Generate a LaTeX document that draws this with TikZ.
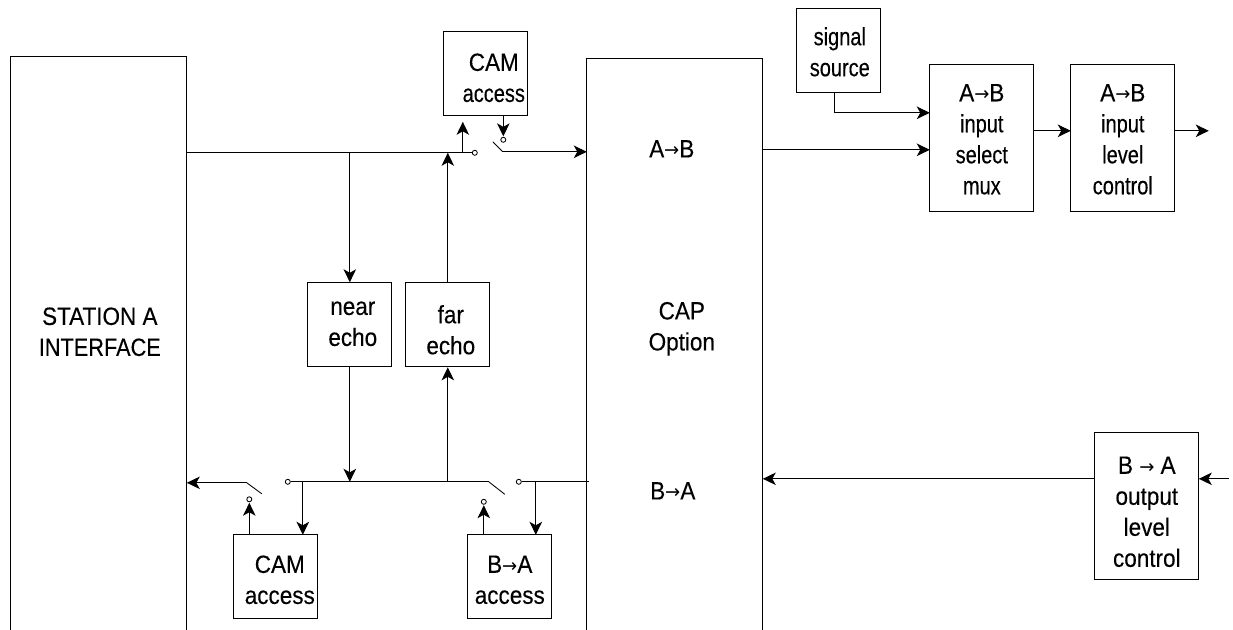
\documentclass[tikz,border=0pt]{standalone}
\usepackage{fontspec}
\setmainfont{Liberation Sans}[FakeStretch=0.9,FakeBold=0.25]
\newfontfamily\narrowfont{Liberation Sans}[FakeStretch=0.8,FakeBold=0.25]
\newfontfamily\ifacefont{Liberation Sans}[FakeStretch=0.87,FakeBold=0.25]
\newfontfamily\arrowfont{DejaVu Sans}[FakeStretch=0.95]
\newcommand{\rarr}{\raisebox{0.5pt}{\arrowfont\fontsize{19}{19}\selectfont →}}
\usetikzlibrary{arrows.meta,calc}
\tikzset{
  wire/.style={line width=1.05pt,black},
  arr/.style={wire,-{Stealth[length=13pt,width=12.5pt,inset=3.5pt]}},
  boxshape/.style={draw=black,line width=1.05pt,inner sep=0pt,rectangle},
  openside/.style={line width=1.05pt,black},
  lbl/.style={align=center,inner sep=0pt,font=\fontsize{25}{31}\selectfont},
  nlbl/.style={align=center,inner sep=0pt,font=\narrowfont\fontsize{25}{31}\selectfont},
  term/.style={circle,draw=black,line width=0.85pt,fill=white,inner sep=0pt,minimum size=5pt},
  blade/.style={line width=0.85pt,black}
}
\begin{document}
\begin{tikzpicture}[x=1pt,y=-1pt]
\useasboundingbox (0.2,0.2) rectangle (1233.2,629.2);
% boxes
\node[boxshape,minimum width=84pt,minimum height=84pt] (camtop) at (486,74) {};
\node[boxshape,minimum width=84pt,minimum height=84pt] (source) at (839,51) {};
\node[boxshape,minimum width=104pt,minimum height=147pt] (mux) at (982,138.5) {};
\node[boxshape,minimum width=104pt,minimum height=147pt] (level) at (1123,138.5) {};
\node[boxshape,minimum width=84pt,minimum height=84pt] (near) at (350,325) {};
\node[boxshape,minimum width=84pt,minimum height=84pt] (far) at (448,325) {};
\node[boxshape,minimum width=84pt,minimum height=84pt] (cambot) at (276,577) {};
\node[boxshape,minimum width=84pt,minimum height=84pt] (baacc) at (510,577) {};
\node[boxshape,minimum width=104pt,minimum height=147pt] (output) at (1147,506.5) {};
% open-bottom blocks
\coordinate (sbl) at (11,630); \coordinate (stl) at (11,56.5);
\coordinate (str) at (187,56.5); \coordinate (sbr) at (187,630);
\draw[openside] (sbl) -- (stl) -- (str) -- (sbr);
\coordinate (cbl) at (587,630); \coordinate (ctl) at (587,58.5);
\coordinate (ctr) at (763,58.5); \coordinate (cbr) at (763,630);
\draw[openside] (cbl) -- (ctl) -- (ctr) -- (cbr);
% labels
\node[lbl] (tstation) at (100,332) {STATION A\\{\ifacefont INTERFACE}};
\node[lbl] (tcap) at (682,329) {CAP\\Option};
\node[lbl] (tab) at (672,149) {A\rarr B};
\node[lbl] (tba) at (673,491) {B\rarr A};
\node[nlbl] (tcamtop) at (494,78) {{\rmfamily CAM}\hspace{10pt}\\access};
\node[nlbl] (tsource) at (840,52) {signal\\source};
\node[nlbl] (tmux) at (982,139.5) {{\rmfamily A\rarr B}\\input\\select\\mux};
\node[nlbl] (tlevel) at (1123,139.5) {{\rmfamily A\rarr B}\\input\\level\\control};
\node[lbl] (tnear) at (353,324) {near\\echo};
\node[lbl] (tfar) at (451,330) {far\\echo};
\node[lbl] (tcambot) at (280,580) {CAM\\access};
\node[lbl] (tbaacc) at (510,580) {B\rarr A\\access};
\node[lbl] (toutput) at (1147,512) {B \rarr\ A\\output\\level\\control};
% terminals
\node[term] (t1) at (475,153) {};
\node[term] (t2) at (503.5,140) {};
\node[term] (t3) at (288,482) {};
\node[term] (t4) at (249.5,499.5) {};
\node[term] (t5) at (519,482) {};
\node[term] (t6) at (484,502) {};
% helper points
\coordinate (stA) at (187,153);
\coordinate (capA) at (587,152);
\coordinate (hinge1) at (503,152);
\coordinate (tip1) at (493,142);
\coordinate (stB) at (187,483);
\coordinate (hinge2) at (247,483);
\coordinate (tip2) at (262,494);
\coordinate (hinge3) at (489,482);
\coordinate (tip3) at (505,494.5);
\coordinate (capB) at (589,482);
\coordinate (capOutA) at (763,150);
\coordinate (muxIn2) at (930,150);
\coordinate (muxIn1) at (930,113);
\coordinate (srcOut) at (835,93);
\coordinate (elbow) at (835,113);
\coordinate (capInB) at (763,479);
\coordinate (outOut) at (1095,479);
\coordinate (outIn) at (1199,479);
\coordinate (inB) at (1229,479);
\coordinate (levIn) at (1071,131);
\coordinate (muxOut) at (1034,131);
\coordinate (levOut) at (1175,131);
\coordinate (outEnd) at (1209,131);
\coordinate (j1) at (463,153);
\coordinate (j2) at (350,153);
\coordinate (j3) at (448,153);
\coordinate (j4) at (350,482);
\coordinate (j5) at (448,482);
\coordinate (j6) at (303,482);
\coordinate (j7) at (536,482);
\coordinate (cam1a) at (463,122);
\coordinate (cam1b) at (503.5,116);
\coordinate (cam2a) at (249.5,535);
\coordinate (cam2b) at (303,535);
\coordinate (ba1) at (484,535);
\coordinate (ba2) at (536,535);
% top path
\draw[wire] (stA) -- (t1);
\draw[arr] (j1) -- (cam1a);
\draw[arr,shorten >=0.5pt] (cam1b) -- (t2);
\draw[blade] (tip1) -- (hinge1);
\draw[arr] (hinge1) -- (capA);
\draw[arr] (j2) -- (near.north);
\draw[arr] (far.north) -- (j3);
\draw[arr] (near.south) -- (j4);
\draw[arr] (j5) -- (far.south);
% bottom path
\draw[wire] (t3) -- (hinge3);
\draw[blade] (hinge3) -- (tip3);
\draw[wire] (t5) -- (capB);
\draw[arr] (hinge2) -- (stB);
\draw[blade] (hinge2) -- (tip2);
\draw[arr,shorten >=0.5pt] (cam2a) -- (t4);
\draw[arr] (j6) -- (cam2b);
\draw[arr,shorten >=0.5pt] (ba1) -- (t6);
\draw[arr] (j7) -- (ba2);
% right side
\draw[arr] (capOutA) -- (muxIn2);
\draw[arr] (srcOut) -- (elbow) -- (muxIn1);
\draw[arr] (muxOut) -- (levIn);
\draw[arr] (levOut) -- (outEnd);
\draw[arr] (outOut) -- (capInB);
\draw[arr] (inB) -- (outIn);
\end{tikzpicture}
\end{document}
